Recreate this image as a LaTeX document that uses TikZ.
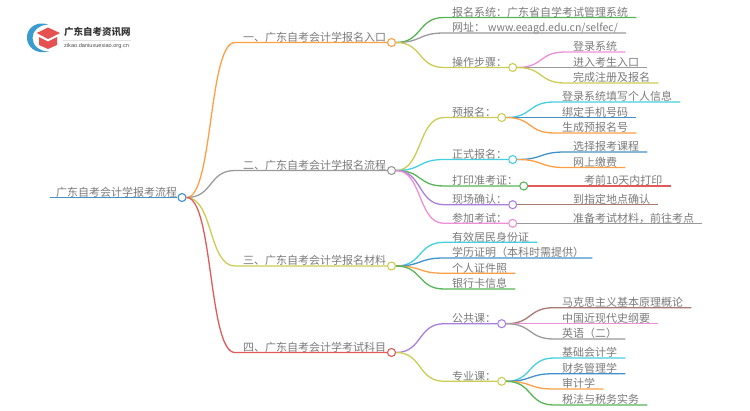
\documentclass[tikz,border=0pt]{standalone}
\usepackage{fontspec}
\setmainfont{Noto Sans CJK SC}
\newfontfamily\logolatin{Liberation Sans}
\usetikzlibrary{positioning, calc}
\definecolor{corange}{HTML}{FF9F45}
\definecolor{cgray}{HTML}{9A9A9A}
\definecolor{cyellow}{HTML}{CCCC55}
\definecolor{cgreen}{HTML}{55B555}
\definecolor{ccyan}{HTML}{45D0E2}
\definecolor{cpink}{HTML}{EE8FD5}
\definecolor{cpurple}{HTML}{A97FDC}
\definecolor{cred}{HTML}{E25A5A}
\definecolor{cblue}{HTML}{4090CC}
\definecolor{cbrown}{HTML}{A87B72}
\definecolor{ctext}{HTML}{7A7A7A}

\begin{document}
\begin{tikzpicture}[x=1pt, y=-1pt]
\tikzset{Item/.style={shape=rectangle, anchor=south west, inner xsep=8pt, inner ysep=0pt, text height=9.5pt, text depth=1pt, text=ctext, font=\fontsize{11}{11}\selectfont}}
\tikzset{Dot/.style={shape=circle, draw, fill=white, line width=1.1pt, minimum size=8pt, inner sep=0pt}}
\tikzset{Line/.style={line width=1.3pt}}
\tikzset{Curve/.style={to path={let \p1=(\tikztostart), \p2=(\tikztotarget), \n1={0.55*(\x2-\x1)} in .. controls (\x1+\n1,\y1) and (\x2-\n1,\y2) .. (\p2)}}}
\useasboundingbox (0,0) rectangle (750,410);

% logo
\fill[cblue!90!cyan, even odd rule] (48,24.5) .. controls (34,20) and (26,31) .. (27,38) .. controls (27,46) and (35,55) .. (49,51.5) .. controls (39,51.5) and (32.5,45) .. (32.5,38) .. controls (32.5,31) and (39,25) .. (48,24.5) -- cycle;
\fill[cred!90!red] (36.7,33) -- (48,27.5) -- (60,33) -- (48,39) -- cycle;
\fill[cred!90!red] (39,37) -- (48,41.5) -- (57,37) -- (57,45) -- (48,49) -- (39,45) -- cycle;
\node[inner sep=0pt, anchor=west, font=\fontsize{9.5}{9.5}\selectfont\bfseries, text=black!80] (logotitle) at (64,31.5) {广东自考资讯网};
\node[inner sep=0pt, anchor=west, font=\logolatin\fontsize{5.6}{5.6}\selectfont, text=black!70] (logosub) at (64,46.5) {zikao.daniuxuexiao.org.cn};
\draw[black!12, line width=0.5pt] (63,40.3) -- (131,40.3);

% nodes
\node[Item, inner xsep=6pt] (root) at (50,197.5) {广东自考会计学报考流程};
\node[Dot, draw=cblue] (droot) at (182,197.5) {};

\node[Item] (sec1) at (235,42.5) {一、广东自考会计学报名入口};
\node[Dot, draw=corange] (dsec1) at (391.5,42.5) {};
\node[Item] (sec2) at (235,170.5) {二、广东自考会计学报名流程};
\node[Dot, draw=cgray] (dsec2) at (391.5,170.5) {};
\node[Item] (sec3) at (235,266) {三、广东自考会计学报名材料};
\node[Dot, draw=cyellow] (dsec3) at (391.5,266) {};
\node[Item] (sec4) at (235,352.5) {四、广东自考会计学考试科目};
\node[Dot, draw=cred] (dsec4) at (391.5,352.5) {};

\node[Item] (sys) at (444,17.5) {报名系统：广东省自学考试管理系统};
\node[Item] (web) at (444,33) {网址：\hspace{3pt}{\fontsize{10.5}{10.5}\selectfont www.eeagd.edu.cn/selfec/}};
\node[Item] (oper) at (444,67.5) {操作步骤：};
\node[Dot, draw=cyellow] (doper) at (512.7,67.5) {};
\node[Item] (oper1) at (565,52) {登录系统};
\node[Item] (oper2) at (565,67.5) {进入考生入口};
\node[Item] (oper3) at (565,83) {完成注册及报名};

\node[Item] (pre) at (444,117.5) {预报名：};
\node[Dot, draw=cyellow] (dpre) at (501.7,117.5) {};
\node[Item] (pre1) at (554,102) {登录系统填写个人信息};
\node[Item] (pre2) at (554,117.5) {绑定手机号码};
\node[Item] (pre3) at (554,133) {生成预报名号};

\node[Item] (form) at (444,159.5) {正式报名：};
\node[Dot, draw=ccyan] (dform) at (512.7,159.5) {};
\node[Item] (form1) at (565,152) {选择报考课程};
\node[Item] (form2) at (565,167.5) {网上缴费};

\node[Item] (print) at (444,186) {打印准考证：};
\node[Dot, draw=cgreen] (dprint) at (523.7,186) {};
\node[Item] (print1) at (576,186) {考前10天内打印};

\node[Item] (site) at (444,204.7) {现场确认：};
\node[Dot, draw=cpurple] (dsite) at (512.7,204.7) {};
\node[Item] (site1) at (565,204.7) {到指定地点确认};

\node[Item] (exam) at (444,223.3) {参加考试：};
\node[Dot, draw=cpink] (dexam) at (512.7,223.3) {};
\node[Item] (exam1) at (565,223.3) {准备考试材料，前往考点};

\node[Item] (mat1) at (444,242.3) {有效居民身份证};
\node[Item] (mat2) at (444,258) {学历证明（本科时需提供）};
\node[Item] (mat3) at (444,273.3) {个人证件照};
\node[Item] (mat4) at (444,289) {银行卡信息};

\node[Item] (pub) at (444,323.7) {公共课：};
\node[Dot, draw=cpurple] (dpub) at (501.7,323.7) {};
\node[Item] (pub1) at (554,307.7) {马克思主义基本原理概论};
\node[Item] (pub2) at (554,323.7) {中国近现代史纲要};
\node[Item] (pub3) at (554,339) {英语（二）};

\node[Item] (maj) at (444,381.3) {专业课：};
\node[Dot, draw=cyellow] (dmaj) at (501.7,381.3) {};
\node[Item] (maj1) at (554,358) {基础会计学};
\node[Item] (maj2) at (554,373.7) {财务管理学};
\node[Item] (maj3) at (554,389) {审计学};
\node[Item] (maj4) at (554,405) {税法与税务实务};

% arrows
\draw[Line, cblue] (root.south west) -- (droot.west);
\draw[Line, corange] (droot.east) to[Curve] (sec1.south west) -- (dsec1.west);
\draw[Line, cgray] (droot.east) to[Curve] (sec2.south west) -- (dsec2.west);
\draw[Line, cyellow] (droot.east) to[Curve] (sec3.south west) -- (dsec3.west);
\draw[Line, cred] (droot.east) to[Curve] (sec4.south west) -- (dsec4.west);

\draw[Line, cgreen] (dsec1.east) to[Curve] (sys.south west) -- (sys.south east);
\draw[Line, cgray] (dsec1.east) to[Curve] (web.south west) -- (web.south east);
\draw[Line, cyellow] (dsec1.east) to[Curve] (oper.south west) -- (doper.west);
\draw[Line, cpink] (doper.east) to[Curve] (oper1.south west) -- (oper1.south east);
\draw[Line, cgray] (doper.east) to[Curve] (oper2.south west) -- (oper2.south east);
\draw[Line, cyellow] (doper.east) to[Curve] (oper3.south west) -- (oper3.south east);

\draw[Line, cyellow] (dsec2.east) to[Curve] (pre.south west) -- (dpre.west);
\draw[Line, ccyan] (dpre.east) to[Curve] (pre1.south west) -- (pre1.south east);
\draw[Line, cblue] (dpre.east) to[Curve] (pre2.south west) -- (pre2.south east);
\draw[Line, corange] (dpre.east) to[Curve] (pre3.south west) -- (pre3.south east);
\draw[Line, ccyan] (dsec2.east) to[Curve] (form.south west) -- (dform.west);
\draw[Line, cblue] (dform.east) to[Curve] (form1.south west) -- (form1.south east);
\draw[Line, corange] (dform.east) to[Curve] (form2.south west) -- (form2.south east);
\draw[Line, cgreen] (dsec2.east) to[Curve] (print.south west) -- (dprint.west);
\draw[Line, cred] (dprint.east) -- (print1.south west) -- (print1.south east);
\draw[Line, cpurple] (dsec2.east) to[Curve] (site.south west) -- (dsite.west);
\draw[Line, cbrown] (dsite.east) -- (site1.south west) -- (site1.south east);
\draw[Line, cpink] (dsec2.east) to[Curve] (exam.south west) -- (dexam.west);
\draw[Line, cgray] (dexam.east) -- (exam1.south west) -- (exam1.south east);

\draw[Line, ccyan] (dsec3.east) to[Curve] (mat1.south west) -- (mat1.south east);
\draw[Line, cblue] (dsec3.east) to[Curve] (mat2.south west) -- (mat2.south east);
\draw[Line, corange] (dsec3.east) to[Curve] (mat3.south west) -- (mat3.south east);
\draw[Line, cgreen] (dsec3.east) to[Curve] (mat4.south west) -- (mat4.south east);

\draw[Line, cpurple] (dsec4.east) to[Curve] (pub.south west) -- (dpub.west);
\draw[Line, cbrown] (dpub.east) to[Curve] (pub1.south west) -- (pub1.south east);
\draw[Line, cpink] (dpub.east) to[Curve] (pub2.south west) -- (pub2.south east);
\draw[Line, cgray] (dpub.east) to[Curve] (pub3.south west) -- (pub3.south east);
\draw[Line, cyellow] (dsec4.east) to[Curve] (maj.south west) -- (dmaj.west);
\draw[Line, ccyan] (dmaj.east) to[Curve] (maj1.south west) -- (maj1.south east);
\draw[Line, cblue] (dmaj.east) to[Curve] (maj2.south west) -- (maj2.south east);
\draw[Line, corange] (dmaj.east) to[Curve] (maj3.south west) -- (maj3.south east);
\draw[Line, cgreen] (dmaj.east) to[Curve] (maj4.south west) -- (maj4.south east);
\end{tikzpicture}
\end{document}
